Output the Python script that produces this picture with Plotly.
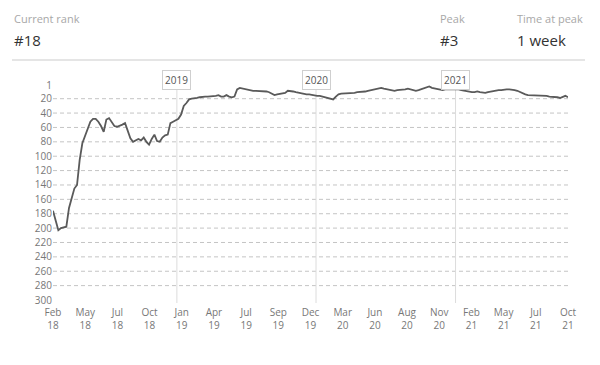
import pandas as pd
import plotly.graph_objects as go

START_DATE = "2018-02-10"
RANKS = [
    176, 190, 203, 200, 199, 198, 172, 158, 145, 140,
    105, 82, 72, 62, 52, 48, 48, 52, 58, 66,
    49, 47, 52, 58, 59, 58, 56, 54, 65, 75,
    80, 78, 76, 78, 74, 80, 84, 76, 70, 79,
    80, 74, 71, 70, 54, 52, 50, 48, 42, 30,
    26, 21, 20, 20, 19, 18, 17, 17, 17, 17,
    17, 16, 15, 17, 17, 15, 17, 18, 17, 7,
    5, 6, 7, 8, 8, 9, 9, 9, 10, 10,
    10, 11, 13, 15, 14, 13, 13, 12, 9, 9,
    10, 11, 12, 13, 13, 14, 14, 15, 15, 16,
    16, 17, 17, 18, 20, 21, 17, 14, 13, 13,
    13, 13, 12, 12, 11, 11, 10, 10, 9, 8,
    8, 7, 6, 5, 6, 7, 8, 9, 9, 8,
    8, 7, 7, 6, 7, 8, 9, 8, 7, 6,
    4, 3, 5, 6, 7, 8, 8, 7, 7, 6,
    6, 6, 7, 8, 9, 10, 10, 11, 11, 10,
    11, 12, 12, 11, 10, 9, 8, 8, 8, 7,
    7, 7, 7, 8, 9, 11, 13, 14, 15, 15,
    16, 16, 16, 16, 16, 16, 17, 17, 18, 18,
    19, 17, 16, 18,
]
TICK_LABELS = ["Feb<br>18", "May<br>18", "Jul<br>18", "Oct<br>18", "Jan<br>19",
               "Apr<br>19", "Jul<br>19", "Sep<br>19", "Dec<br>19", "Mar<br>20",
               "Jun<br>20", "Aug<br>20", "Nov<br>20", "Feb<br>21", "May<br>21",
               "Jul<br>21", "Oct<br>21"]
Y_TICKS = [1, 20, 40, 60, 80, 100, 120, 140, 160, 180, 200, 220, 240, 260, 280, 300]
YEAR_MARKS = ["2019", "2020", "2021"]
HEADER = [("Current rank", "#18"), ("Peak", "#3"), ("Time at peak", "1 week")]

dates = pd.date_range(START_DATE, periods=len(RANKS), freq="7D")
tickvals = pd.date_range(dates[0], dates[-1], periods=len(TICK_LABELS))

FONT = "Open Sans"
PLOT_TOP, PLOT_BOTTOM = 80, 300
PH = PLOT_BOTTOM - PLOT_TOP


def py(pixel_y):
    return (PLOT_BOTTOM - pixel_y) / PH


fig = go.Figure()
fig.add_trace(go.Scatter(x=dates, y=RANKS, mode="lines",
                         line=dict(color="#5a5a5a", width=1.8),
                         hoverinfo="skip", showlegend=False))

shapes = []
for v in Y_TICKS[1:-1]:
    shapes.append(dict(type="line", xref="paper", yref="y", x0=0, x1=1, y0=v, y1=v,
                       line=dict(color="#c4c4c4", width=1, dash="4px,3px"), layer="below"))
annotations = []
for yr in YEAR_MARKS:
    d = pd.Timestamp(f"{yr}-01-01")
    shapes.append(dict(type="line", xref="x", yref="paper", x0=d, x1=d, y0=py(303), y1=py(88),
                       line=dict(color="#dcdcdc", width=1), layer="below"))
    annotations.append(dict(x=d, xref="x", y=py(80), yref="paper",
                            text=yr, showarrow=False, yanchor="middle",
                            font=dict(family=FONT, size=10, color="#555"),
                            bgcolor="white", bordercolor="#cfcfcf", borderwidth=1, borderpad=2))

# header
shapes.append(dict(type="line", xref="paper", yref="paper", x0=(12 - 53) / 515, x1=(585 - 53) / 515,
                   y0=py(60), y1=py(60), line=dict(color="#dddddd", width=1.5)))
hx = [12, 438, 515]
for (lab, val), px in zip(HEADER, hx):
    xp = (px - 53) / 515
    annotations.append(dict(xref="paper", yref="paper", x=xp, y=py(18),
                            text=lab, showarrow=False, xanchor="left", yanchor="middle",
                            font=dict(family=FONT, size=11, color="#a8a8a8")))
    annotations.append(dict(xref="paper", yref="paper", x=xp, y=py(40),
                            text=val, showarrow=False, xanchor="left", yanchor="middle",
                            font=dict(family=FONT, size=15, color="#333")))

fig.update_layout(
    width=600, height=365,
    margin=dict(l=53, r=32, t=PLOT_TOP, b=365 - PLOT_BOTTOM),
    paper_bgcolor="white", plot_bgcolor="white",
    font=dict(family=FONT, size=10, color="#666"),
    shapes=shapes, annotations=annotations,
    xaxis=dict(range=[dates[0], dates[-1]], tickvals=tickvals, ticktext=TICK_LABELS,
               showgrid=False, zeroline=False, showline=False, ticks="",
               ticklabelstandoff=5, tickfont=dict(size=10, color="#777")),
    yaxis=dict(range=[300, -6], tickvals=Y_TICKS, ticktext=[str(v) for v in Y_TICKS],
               showgrid=False, zeroline=False, showline=False, ticks="",
               tickfont=dict(size=10, color="#777")),
)
fig.write_html("out.html")
